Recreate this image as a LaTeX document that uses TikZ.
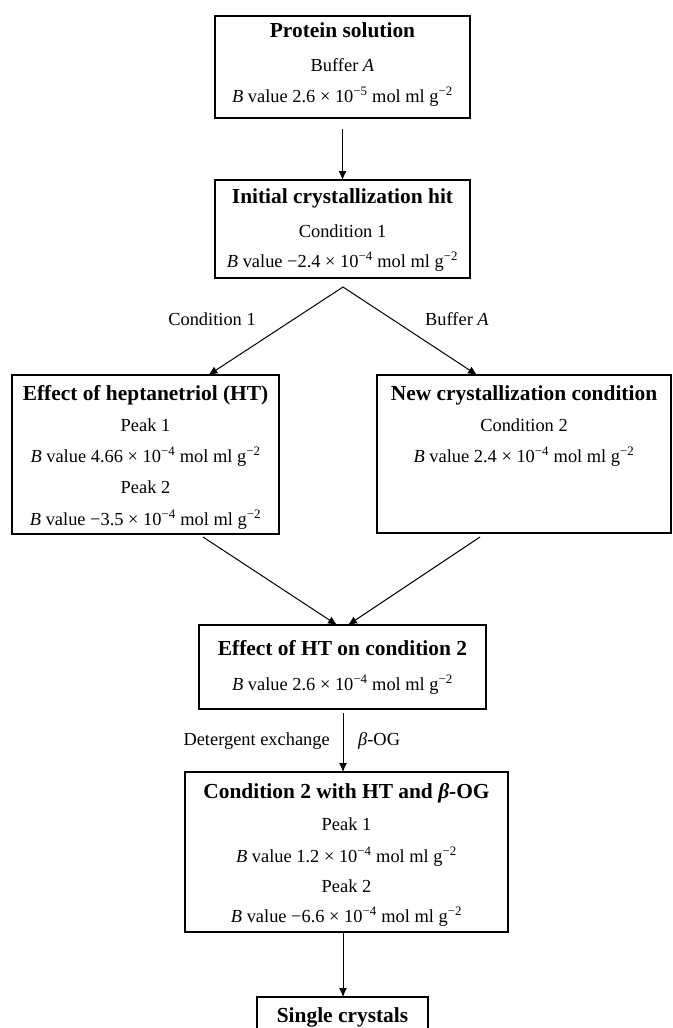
\documentclass[tikz,border=0pt]{standalone}
\usepackage{fontspec}
\setmainfont{Liberation Serif}
\usetikzlibrary{arrows.meta,calc}
\newcommand{\bval}[2]{\textit{B} value #1 × 10\textsuperscript{#2} mol ml g\textsuperscript{−2}}
\begin{document}
\begin{tikzpicture}[x=1pt,y=-1pt,
  box/.style={draw, line width=1.5pt, inner sep=0pt, outer sep=0pt},
  ttl/.style={anchor=base, font=\fontsize{21.4}{25}\selectfont\bfseries, inner sep=0pt},
  txt/.style={anchor=base, font=\fontsize{18.4}{22}\selectfont, inner sep=0pt},
  arr/.style={line width=1pt, -{Latex[length=9pt,width=8pt]}}]
\path[use as bounding box, clip] (0,0) rectangle (672,1028);
\fill[white] (0,0) rectangle (672,1028);
% boxes
\node[box, minimum width=255pt, minimum height=102pt] (b1) at (342.5,67) {};
\node[box, minimum width=255pt, minimum height=98pt] (b2) at (342.5,229) {};
\node[box, minimum width=267pt, minimum height=159pt] (b3) at (145.5,454.5) {};
\node[box, minimum width=294pt, minimum height=158pt] (b4) at (524,454) {};
\node[box, minimum width=287pt, minimum height=84pt] (b5) at (342.5,667) {};
\node[box, minimum width=323pt, minimum height=160pt] (b6) at (346.5,852) {};
\node[box, minimum width=171pt, minimum height=73pt] (b7) at (342.5,1033.5) {};
% box texts
\node[ttl] (t1a) at (342.5,37) {Protein solution};
\node[txt] (t1b) at (342.5,71) {Buffer \textit{A}};
\node[txt] (t1c) at (342.5,102) {\bval{2.6}{−5}};
\node[ttl] (t2a) at (342.5,203) {Initial crystallization hit};
\node[txt] (t2b) at (342.5,237) {Condition 1};
\node[txt] (t2c) at (342.5,267) {\bval{−2.4}{−4}};
\node[ttl] (t3a) at (145.5,400) {Effect of heptanetriol (HT)};
\node[txt] (t3b) at (145.5,431) {Peak 1};
\node[txt] (t3c) at (145.5,462) {\bval{4.66}{−4}};
\node[txt] (t3d) at (145.5,493) {Peak 2};
\node[txt] (t3e) at (145.5,525) {\bval{−3.5}{−4}};
\node[ttl] (t4a) at (524,400) {New crystallization condition};
\node[txt] (t4b) at (524,431) {Condition 2};
\node[txt] (t4c) at (524,462) {\bval{2.4}{−4}};
\node[ttl] (t5a) at (342.5,655) {Effect of HT on condition 2};
\node[txt] (t5b) at (342.5,690) {\bval{2.6}{−4}};
\node[ttl] (t6a) at (346.5,798) {Condition 2 with HT and \textit{β}-OG};
\node[txt] (t6b) at (346.5,830) {Peak 1};
\node[txt] (t6c) at (346.5,862) {\bval{1.2}{−4}};
\node[txt] (t6d) at (346.5,892) {Peak 2};
\node[txt] (t6e) at (346.5,922) {\bval{−6.6}{−4}};
\node[ttl] (t7a) at (342.5,1022) {Single crystals};
% connector labels
\node[txt] (l1) at (212,325) {Condition 1};
\node[txt] (l2) at (457,325) {Buffer \textit{A}};
\node[txt, anchor=base east] (l3) at (330,745) {Detergent exchange};
\node[txt, anchor=base west] (l4) at (358,745) {\textit{β}-OG};
% connectors
\draw[arr] ($(b1.south)+(0,11)$) -- (b2.north);
\coordinate (apex) at ($(b2.south)+(0.5,9)$);
\draw[arr] (apex) -- ($(b3.north)+(63,0)$);
\draw[arr] (apex) -- ($(b4.north)+(-47,0)$);
\draw[arr] ($(b3.south)+(57.5,3)$) -- ($(b5.north)+(-5.5,0)$);
\draw[arr] ($(b4.south)+(-44,4)$) -- ($(b5.north)+(5.5,0)$);
\draw[arr] ($(b5.south)+(0.5,4)$) -- ($(b6.north)+(-3.5,0)$);
\draw[arr] ($(b6.south)+(-3.5,1)$) -- ($(b7.north)+(0.5,0)$);
\end{tikzpicture}
\end{document}
